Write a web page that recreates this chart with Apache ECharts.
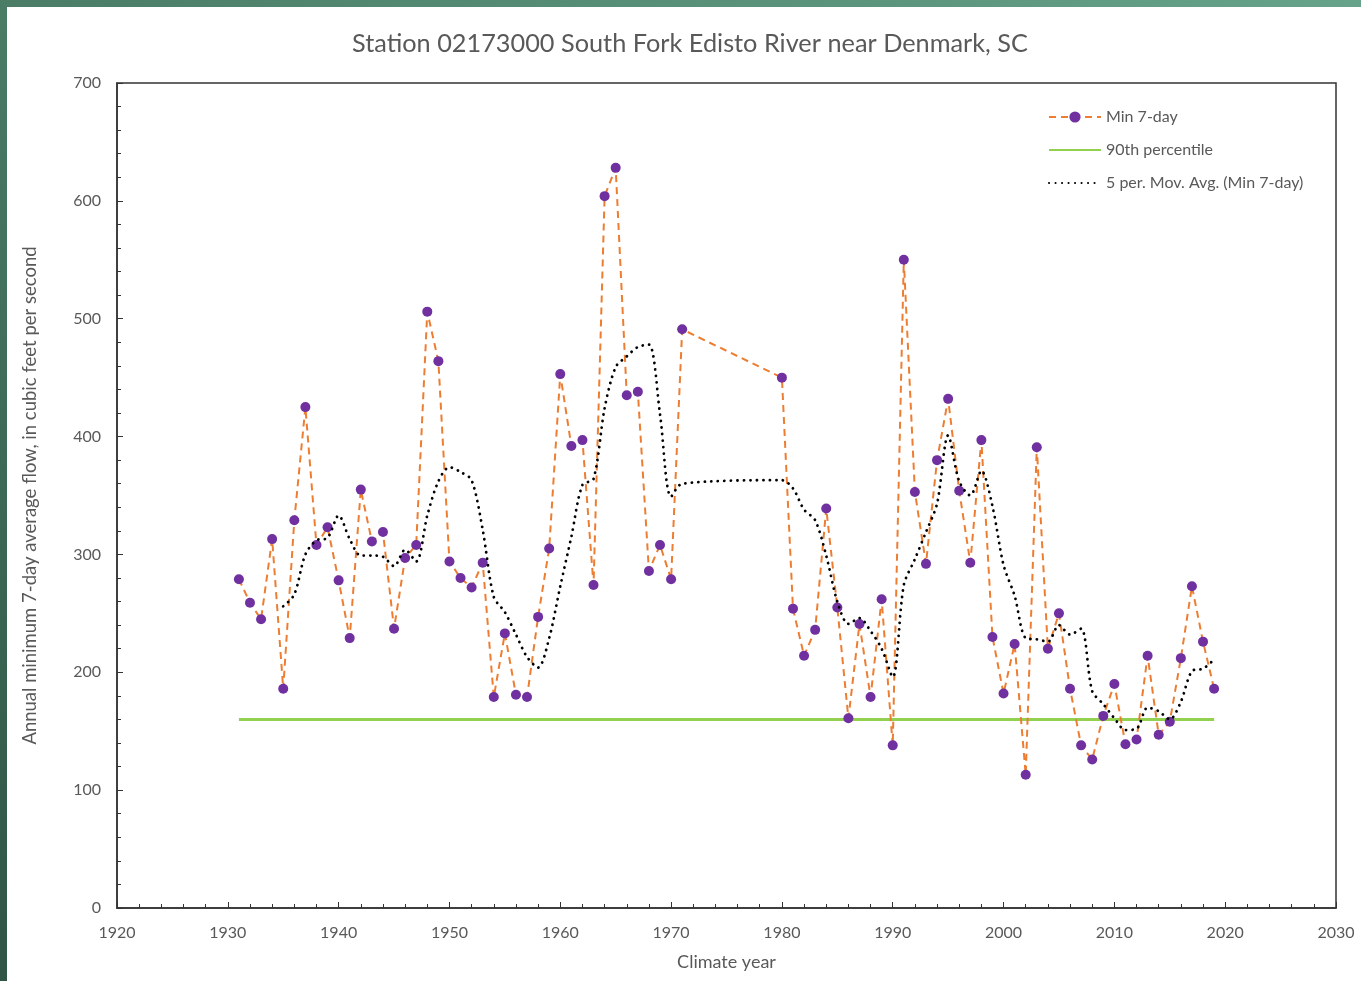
<!DOCTYPE html>
<html>
<head>
<meta charset="utf-8">
<title>South Fork Edisto River near Denmark, SC</title>
<script src="https://cdn.jsdelivr.net/npm/echarts@6/dist/echarts.min.js"></script>
<style>
  html, body { margin: 0; padding: 0; background: #fff; }
  #chart { width: 1361px; height: 981px; }
  .frame { position: absolute; z-index: 5; }
  #frameTop { left: 0; top: 0; width: 1361px; height: 7px; background: linear-gradient(to right, #4a7c66, #66a38a); }
  #frameLeft { left: 0; top: 0; width: 7px; height: 981px; background: linear-gradient(to bottom, #4a7c66, #2f5546); }
</style>
</head>
<body>
<div id="frameTop" class="frame"></div>
<div id="frameLeft" class="frame"></div>
<div id="chart"></div>
<script>
// climate years with a record (no data 1972-1979)
const years = [
  1931, 1932, 1933, 1934, 1935, 1936, 1937, 1938, 1939, 1940,
  1941, 1942, 1943, 1944, 1945, 1946, 1947, 1948, 1949, 1950,
  1951, 1952, 1953, 1954, 1955, 1956, 1957, 1958, 1959, 1960,
  1961, 1962, 1963, 1964, 1965, 1966, 1967, 1968, 1969, 1970,
  1971,
  1980, 1981, 1982, 1983, 1984, 1985, 1986, 1987, 1988, 1989,
  1990, 1991, 1992, 1993, 1994, 1995, 1996, 1997, 1998, 1999,
  2000, 2001, 2002, 2003, 2004, 2005, 2006, 2007, 2008, 2009,
  2010, 2011, 2012, 2013, 2014, 2015, 2016, 2017, 2018, 2019
]
// annual minimum 7-day average flow, cfs
const min7day = [
  279, 259, 245, 313, 186, 329, 425, 308, 323, 278,
  229, 355, 311, 319, 237, 297, 308, 506, 464, 294,
  280, 272, 293, 179, 233, 181, 179, 247, 305, 453,
  392, 397, 274, 604, 628, 435, 438, 286, 308, 279,
  491,
  450, 254, 214, 236, 339, 255, 161, 241, 179, 262,
  138, 550, 353, 292, 380, 432, 354, 293, 397, 230,
  182, 224, 113, 391, 220, 250, 186, 138, 126, 163,
  190, 139, 143, 214, 147, 158, 212, 273, 226, 186
]
// 5 period moving average, starts at 1935
const maYears = years.slice(4)
const movAvg = [
  256, 266, 300, 312, 314, 333, 313, 299, 299, 298,
  290, 304, 294, 333, 362, 374, 370, 363, 321, 264,
  251, 232, 213, 204, 229, 273, 315, 359, 364, 424,
  459, 468, 476, 478, 419, 349, 360,
  363, 356, 338, 329, 299, 260, 241, 246, 235, 220,
  196, 274, 296, 319, 343, 401, 362, 350, 371, 341,
  291, 265, 229, 228, 226, 240, 232, 237, 184, 173,
  161, 151, 152, 170, 167, 160, 175, 201, 203, 211
]
// 90th percentile flow
const pctYears = [1931, 2019]
const pctValues = [160, 160]

const textColor = '#595959'
const font = 'Lato, "Open Sans", sans-serif'

const myChart = echarts.init(document.getElementById('chart'))
const option = {
  animation: false,
  title: {
    text: 'Station 02173000 South Fork Edisto River near Denmark, SC',
    left: 347,
    top: 26,
    textStyle: { color: textColor, fontSize: 25.3, fontWeight: 'normal', fontFamily: font }
  },
  legend: {
    orient: 'vertical',
    left: 1043,
    top: 104,
    itemWidth: 52,
    itemHeight: 14,
    itemGap: 17,
    textStyle: { color: textColor, fontSize: 16, fontFamily: font },
    data: [
      { name: 'Min 7-day' },
      // line only, no marker in these two keys
      { name: '90th percentile', itemStyle: { color: 'transparent', borderWidth: 0 } },
      { name: '5 per. Mov. Avg. (Min 7-day)', itemStyle: { color: 'transparent', borderWidth: 0 } }
    ]
  },
  grid: {
    left: 117,
    top: 83,
    width: 1219,
    height: 825,
    show: true,
    borderColor: '#333',
    borderWidth: 1.5
  },
  xAxis: {
    type: 'value',
    min: 1920,
    max: 2030,
    interval: 10,
    name: 'Climate year',
    nameLocation: 'middle',
    nameGap: 45,
    nameTextStyle: { color: textColor, fontSize: 18, fontFamily: font },
    axisLine: { lineStyle: { color: '#333', width: 1.5 } },
    axisTick: { inside: true, length: 6, lineStyle: { color: '#333' } },
    minorTick: { show: true, splitNumber: 5, length: 4, lineStyle: { color: '#333' } },
    splitLine: { show: false },
    axisLabel: { color: textColor, fontSize: 16, fontFamily: font, margin: 17, formatter: v => String(v) }
  },
  yAxis: {
    type: 'value',
    min: 0,
    max: 700,
    interval: 100,
    name: 'Annual minimum 7-day average flow, in cubic feet per second',
    nameLocation: 'middle',
    nameGap: 77,
    nameTextStyle: { color: textColor, fontSize: 18.5, fontFamily: font },
    axisLine: { show: true, lineStyle: { color: '#333', width: 1.5 } },
    axisTick: { show: true, inside: true, length: 6, lineStyle: { color: '#333' } },
    minorTick: { show: true, splitNumber: 5, length: 4, lineStyle: { color: '#333' } },
    splitLine: { show: false },
    axisLabel: { color: textColor, fontSize: 16, fontFamily: font, margin: 16 }
  },
  series: [
    {
      name: 'Min 7-day',
      type: 'line',
      z: 3,
      symbol: 'circle',
      symbolSize: 10,
      itemStyle: { color: '#7030A0' },
      lineStyle: { color: '#ED7D31', width: 2, type: [7, 5] },
      data: years.map((y, i) => [y, min7day[i]])
    },
    {
      name: '90th percentile',
      type: 'line',
      z: 2,
      symbol: 'none',
      itemStyle: { color: '#92D050' },
      lineStyle: { color: '#92D050', width: 3 },
      data: pctYears.map((y, i) => [y, pctValues[i]])
    },
    {
      name: '5 per. Mov. Avg. (Min 7-day)',
      type: 'line',
      z: 4,
      symbol: 'none',
      smooth: 0.3,
      itemStyle: { color: '#000' },
      lineStyle: { color: '#000', width: 2.8, type: [0.1, 6.4], cap: 'round' },
      data: maYears.map((y, i) => [y, movAvg[i]])
    }
  ]
}
option && myChart.setOption(option)
</script>
</body>
</html>
